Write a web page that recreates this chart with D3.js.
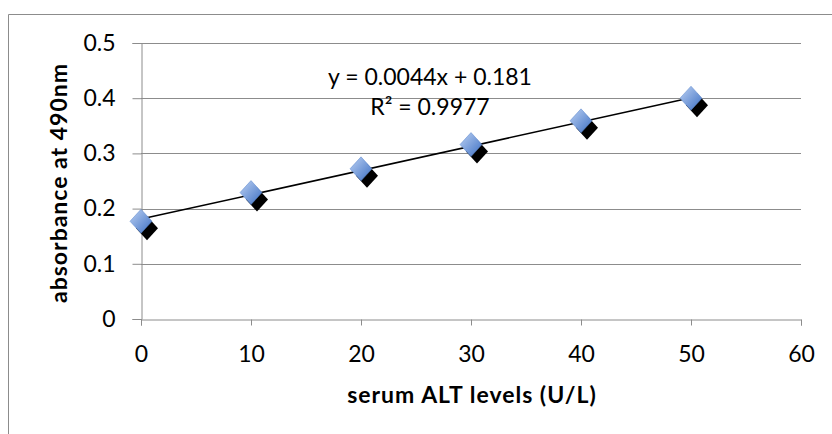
<!DOCTYPE html>
<html>
<head>
<meta charset="utf-8">
<script src="https://cdn.jsdelivr.net/npm/d3@7"></script>
<style>
  body { margin: 0; background: #fff; }
  text { font-family: Lato, "Open Sans", sans-serif; fill: #000; }
</style>
</head>
<body>
<div id="main"></div>
<script>
// serum ALT (U/L) vs absorbance
const altLevels = [0, 10, 20, 30, 40, 50];
const absorbance = [0.177, 0.229, 0.272, 0.316, 0.359, 0.400];
const xTicks = [0, 10, 20, 30, 40, 50, 60];
const yTicks = [0, 0.1, 0.2, 0.3, 0.4, 0.5];
const slope = 0.0044;
const intercept = 0.181;
const eqLabel = 'y = 0.0044x + 0.181';
const r2Label = 'R² = 0.9977';

const W = 832, H = 434;
const margin = {top: 43, right: 31, bottom: 115, left: 141};
const width = W - margin.left - margin.right;
const height = H - margin.top - margin.bottom;
const fontSize = '23px';

const svg = d3.select('#main').append('svg')
    .attr('width', W)
    .attr('height', H);

// chart border (runs off the right / bottom)
svg.append('path')
    .attr('d', 'M8.5,' + (H + 2) + 'V14.5H' + (W + 2))
    .attr('fill', 'none')
    .attr('stroke', '#8c8c8c')
    .attr('stroke-width', 1);

const defs = svg.append('defs');
const grad = defs.append('linearGradient')
    .attr('id', 'dgrad')
    .attr('x1', '0%').attr('y1', '0%')
    .attr('x2', '100%').attr('y2', '100%');
grad.append('stop').attr('offset', '0%').attr('stop-color', '#bcd1f3');
grad.append('stop').attr('offset', '100%').attr('stop-color', '#3c6fc3');

const g = svg.append('g')
    .attr('transform', 'translate(' + margin.left + ',' + margin.top + ')');

const x = d3.scaleLinear().domain([0, 60]).range([0, width]);
const y = d3.scaleLinear().domain([0, 0.5]).range([height, 0]);

// gridlines
g.selectAll('.grid')
    .data(yTicks.filter(d => d > 0))
    .enter()
    .append('line')
    .attr('x1', 0)
    .attr('x2', width)
    .attr('y1', d => Math.round(y(d)) + 0.5)
    .attr('y2', d => Math.round(y(d)) + 0.5)
    .attr('stroke', '#8c8c8c');

const xAxis = d3.axisBottom(x)
    .tickValues(xTicks)
    .tickSize(6)
    .tickFormat(d3.format('d'));

const yAxis = d3.axisLeft(y)
    .tickValues(yTicks)
    .tickSize(9)
    .tickPadding(17)
    .tickFormat(d => d === 0 ? '0' : d3.format('.1f')(d));

const xg = g.append('g')
    .attr('transform', 'translate(0,' + (Math.round(height) + 0.5) + ')')
    .call(xAxis);
const yg = g.append('g')
    .attr('transform', 'translate(0.5,0)')
    .call(yAxis);

[xg, yg].forEach(a => {
    a.select('.domain').attr('stroke', '#8c8c8c');
    a.selectAll('.tick line').attr('stroke', '#8c8c8c');
    a.selectAll('.tick text')
        .style('font-size', fontSize)
        .style('font-family', 'Lato, "Open Sans", sans-serif');
});
xg.selectAll('.tick text').attr('y', 42).attr('dy', 0);

// trendline
g.append('line')
    .attr('x1', x(0))
    .attr('y1', y(intercept))
    .attr('x2', x(50))
    .attr('y2', y(intercept + slope * 50))
    .attr('stroke', '#000')
    .attr('stroke-width', 1.5);

const pts = altLevels.map((v, i) => ({x: v, y: absorbance[i]}));
const diamond = 'M0,-12L11,0L0,12L-11,0Z';

// shadow
g.selectAll('.shadow')
    .data(pts)
    .enter()
    .append('path')
    .attr('class', 'shadow')
    .attr('d', diamond)
    .attr('transform', d => 'translate(' + (x(d.x) + 6) + ',' + (y(d.y) + 7) + ')')
    .attr('fill', '#000');

g.selectAll('.point')
    .data(pts)
    .enter()
    .append('path')
    .attr('class', 'point')
    .attr('d', diamond)
    .attr('transform', d => 'translate(' + x(d.x) + ',' + y(d.y) + ')')
    .attr('fill', 'url(#dgrad)')
    .attr('stroke', '#5a86cc')
    .attr('stroke-width', 0.5);

// equation labels
svg.append('text')
    .attr('x', 430)
    .attr('y', 85)
    .attr('text-anchor', 'middle')
    .style('font-size', fontSize)
    .text(eqLabel);
svg.append('text')
    .attr('x', 430)
    .attr('y', 115)
    .attr('text-anchor', 'middle')
    .style('font-size', fontSize)
    .text(r2Label);

// axis titles
svg.append('text')
    .attr('x', 472)
    .attr('y', 403)
    .attr('text-anchor', 'middle')
    .style('font-size', fontSize)
    .style('font-weight', 'bold')
    .style('letter-spacing', '1px')
    .text('serum ALT levels (U/L)');

svg.append('text')
    .attr('transform', 'translate(67,183) rotate(-90)')
    .attr('text-anchor', 'middle')
    .style('font-size', fontSize)
    .style('font-weight', 'bold')
    .style('letter-spacing', '1px')
    .text('absorbance at 490nm');
</script>
</body>
</html>
